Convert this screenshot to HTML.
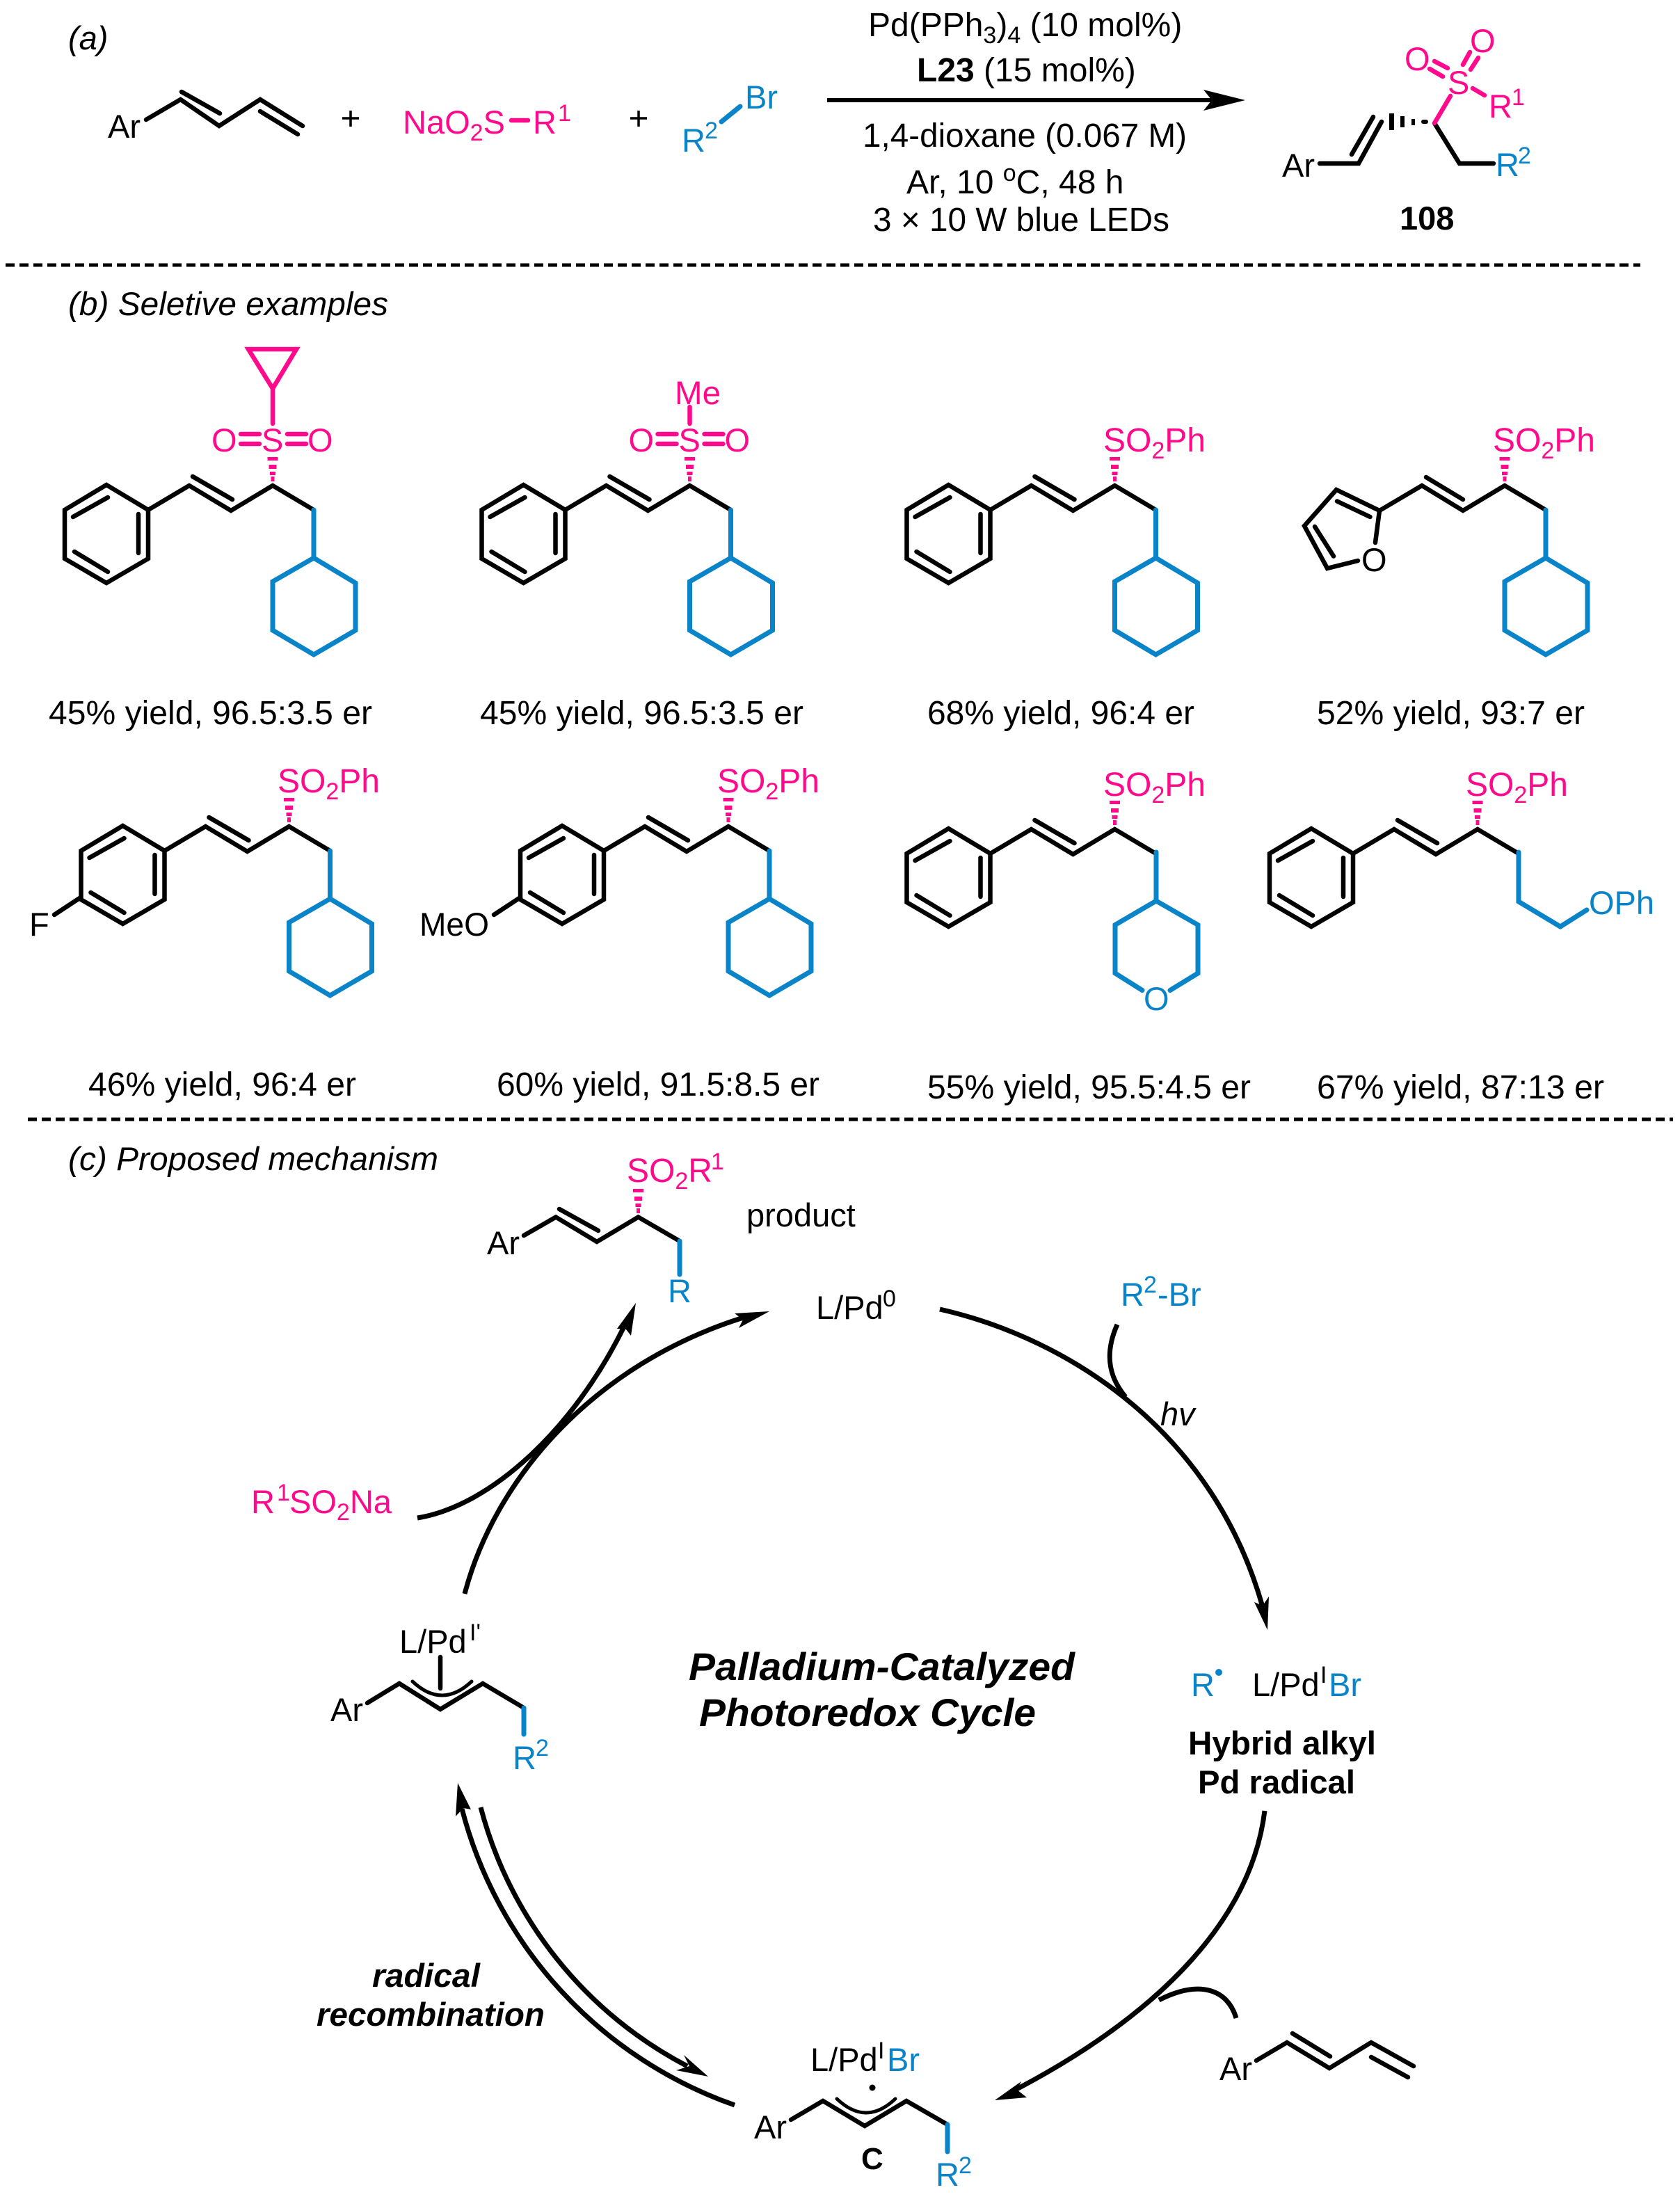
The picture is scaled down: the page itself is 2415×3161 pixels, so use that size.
<!DOCTYPE html>
<html>
<head>
<meta charset="utf-8">
<style>
html,body{margin:0;padding:0;background:#fff;}
svg{display:block;}
text{font-family:"Liberation Sans",Arial,sans-serif;font-size:47px;fill:#000;}
.y{font-size:48px;}
.s{font-size:48px;}
.p{fill:#ff0a8c;}
.b{fill:#0a84c8;}
.i{font-style:italic;}
.bd{font-weight:bold;}
.u{font-size:34px;}
.k{fill:none;stroke:#000;stroke-width:6.5;stroke-linecap:round;stroke-linejoin:miter;}
.kb{fill:none;stroke:#0a84c8;stroke-width:7;stroke-linecap:round;stroke-linejoin:miter;}
.kp{fill:none;stroke:#ff0a8c;stroke-width:6.5;stroke-linecap:round;stroke-linejoin:miter;}
.a{fill:none;stroke:#000;stroke-width:7;stroke-linecap:butt;}
.t{fill:none;stroke:#000;stroke-width:5;stroke-linecap:round;}
.dash{stroke:#000;stroke-width:5;stroke-dasharray:13 7;fill:none;}
</style>
</head>
<body>
<svg xmlns="http://www.w3.org/2000/svg" width="2415" height="3161" viewBox="0 0 2415 3161">
<defs>
<g id="ph">
<polygon class="k" points="153,697 213,733 213,803 153,838 93,803 93,733"/>
<path class="k" d="M105 743L155 715M107 793L155 822M199 739V795"/>
<path class="k" d="M213 733L272 698L332 734L392 698L451 733M277 685L334 718"/>
</g>
<g id="cy">
<path class="kb" d="M451 733V802"/>
<polygon class="kb" points="451,802 511,838 511,906 451,941 392,906 392,836"/>
</g>
<g id="hash" fill="#ff0a8c">
<rect x="-7.5" y="-41" width="15" height="5"/>
<rect x="-5.5" y="-30" width="11" height="6"/>
<rect x="-4" y="-20" width="8" height="5"/>
<rect x="-2.5" y="-13" width="5" height="7"/>
</g>
</defs>
<rect width="2415" height="3161" fill="#fff"/>

<!-- section a -->
<text class="i" x="98" y="71">(a)</text>
<text x="155" y="198">Ar</text>
<path class="k" d="M210 172L259.5 143L315 181L374 143L435 181M261 132L316 163M374 160L428 193"/>
<path d="M504 159V182M492 170H516M918 159V182M906 170H930" fill="none" stroke="#000" stroke-width="3.5"/>
<text class="p" x="579" y="192">NaO<tspan class="u" dy="10">2</tspan><tspan dy="-10">S</tspan></text>
<path class="kp" d="M735 173H759"/>
<text class="p" x="766" y="192">R</text><text class="p u" x="802" y="174">1</text>
<text class="b" x="1071" y="156">Br</text>
<path class="kb" d="M1037 175L1064 153"/>
<text class="b" x="980" y="218">R</text><text class="b u" x="1013" y="199">2</text>

<text class="y" x="1248" y="52">Pd(PPh<tspan class="u" dy="10">3</tspan><tspan dy="-10">)</tspan><tspan class="u" dy="10">4</tspan><tspan dy="-10"> (10 mol%)</tspan></text>
<text class="y" x="1318" y="117"><tspan class="bd">L23</tspan> (15 mol%)</text>
<path d="M1189 144H1745" stroke="#000" stroke-width="6" fill="none"/>
<polygon points="1790,144 1730,129 1742,144 1730,159" fill="#000"/>
<text class="y" x="1240" y="211" textLength="466" lengthAdjust="spacingAndGlyphs">1,4-dioxane (0.067 M)</text>
<text class="y" x="1303" y="278">Ar, 10 <tspan class="u" dy="-18">o</tspan><tspan dy="18">C, 48 h</tspan></text>
<text class="y" x="1255" y="332" textLength="426" lengthAdjust="spacingAndGlyphs">3 × 10 W blue LEDs</text>

<text x="1843" y="254">Ar</text>
<path class="k" d="M1897 235H1953L1986 175M1943 222L1974 168"/>
<rect x="1997" y="163" width="7" height="24" fill="#000"/>
<rect x="2013" y="167" width="6" height="16" fill="#000"/>
<rect x="2029" y="171" width="5" height="9" fill="#000"/>
<rect x="2043" y="172" width="10" height="6" rx="3" fill="#000"/>
<path class="k" d="M2062 177L2098 235H2147"/>
<path class="kp" d="M2062 177L2085 138M2062 88L2081 98M2055 99L2074 110M2113 75L2103 93M2125 83L2114 100M2117 127L2134 137"/>
<text class="p" x="2081" y="135">S</text>
<text class="p" x="2019" y="101">O</text>
<text class="p" x="2113" y="75">O</text>
<text class="p" x="2140" y="169">R</text><text class="p u" x="2173" y="151">1</text>
<text class="b" x="2150" y="253">R</text><text class="b u" x="2182" y="235">2</text>
<text class="bd" x="2012" y="330" style="font-size:47px">108</text>

<path class="dash" d="M8 381H2358"/>

<!-- section b -->
<text class="i" x="98" y="453" textLength="460" lengthAdjust="spacingAndGlyphs">(b) Seletive examples</text>

<!-- ex1 -->
<use href="#ph"/><use href="#cy"/>
<use href="#hash" x="392" y="698"/>
<path class="kp" d="M392 609V558.5M392 558.5L357 502H426Z"/>
<path class="kp" stroke-linecap="butt" d="M346 624H373M346 638H373M413 624H440M413 638H440"/>
<text class="p" x="304" y="649">O</text>
<text class="p" x="376" y="649">S</text>
<text class="p" x="442" y="649">O</text>

<!-- ex2 -->
<g transform="translate(599.5,0)"><use href="#ph"/><use href="#cy"/><use href="#hash" x="392" y="698"/>
<path class="kp" stroke-linecap="butt" d="M346 624H373M346 638H373M413 624H440M413 638H440"/>
<path class="kp" d="M392 585V609"/>
<text class="p" x="304" y="649">O</text>
<text class="p" x="376" y="649">S</text>
<text class="p" x="442" y="649">O</text></g>
<text class="p" x="970" y="581" textLength="66" lengthAdjust="spacingAndGlyphs">Me</text>

<!-- ex3 -->
<g transform="translate(1210.5,0)"><use href="#ph"/><use href="#cy"/><use href="#hash" x="392" y="698"/></g>
<text class="p s" x="1586" y="649">SO<tspan class="u" dy="10">2</tspan><tspan dy="-10">Ph</tspan></text>

<!-- ex4 -->
<path class="k" d="M1977 780L1983 734L1921 704L1875 756L1908 817L1952 806M1922 720.5L1969.5 743M1890 757L1917 799.5"/>
<path class="k" d="M1983 734L2044 698L2103 734L2163 698L2222 733M2050 686L2103 718"/>
<text x="1957" y="821">O</text>
<g transform="translate(1771,0)"><use href="#cy"/><use href="#hash" x="392" y="698"/></g>
<text class="p s" x="2146" y="649">SO<tspan class="u" dy="10">2</tspan><tspan dy="-10">Ph</tspan></text>

<text class="y" x="70" y="1041" textLength="465" lengthAdjust="spacingAndGlyphs">45% yield, 96.5:3.5 er</text>
<text class="y" x="690" y="1041" textLength="465" lengthAdjust="spacingAndGlyphs">45% yield, 96.5:3.5 er</text>
<text class="y" x="1333" y="1041" textLength="384" lengthAdjust="spacingAndGlyphs">68% yield, 96:4 er</text>
<text class="y" x="1893" y="1041" textLength="385" lengthAdjust="spacingAndGlyphs">52% yield, 93:7 er</text>

<!-- ex5 -->
<g transform="translate(23.5,490)"><use href="#ph"/><use href="#cy"/><use href="#hash" x="392" y="698"/></g>
<path class="k" d="M116 1290L78 1315"/>
<text x="42" y="1345">F</text>
<text class="p s" x="399" y="1139">SO<tspan class="u" dy="10">2</tspan><tspan dy="-10">Ph</tspan></text>

<!-- ex6 -->
<g transform="translate(655,490)"><use href="#ph"/><use href="#cy"/><use href="#hash" x="392" y="698"/></g>
<path class="k" d="M748 1290L710 1315"/>
<text x="603" y="1345" textLength="100" lengthAdjust="spacingAndGlyphs">MeO</text>
<text class="p s" x="1031" y="1139">SO<tspan class="u" dy="10">2</tspan><tspan dy="-10">Ph</tspan></text>

<!-- ex7 -->
<g transform="translate(1210.5,494)"><use href="#ph"/><use href="#hash" x="392" y="698"/></g>
<path class="kb" d="M1682 1423.5L1722 1399V1329.5L1662 1295L1603 1329.5V1399L1642 1423.5M1662 1225V1295"/>
<text class="b" x="1644" y="1452">O</text>
<text class="p s" x="1586" y="1144">SO<tspan class="u" dy="10">2</tspan><tspan dy="-10">Ph</tspan></text>

<!-- ex8 -->
<g transform="translate(1732,494)"><use href="#ph"/><use href="#hash" x="392" y="698"/></g>
<path class="kb" d="M2183 1225V1296L2243 1332L2281 1308"/>
<text class="b s" x="2292" y="1314" style="font-size:47px" dx="-8">OPh</text>
<text class="p s" x="2107" y="1144">SO<tspan class="u" dy="10">2</tspan><tspan dy="-10">Ph</tspan></text>

<text class="y" x="127" y="1575" textLength="385" lengthAdjust="spacingAndGlyphs">46% yield, 96:4 er</text>
<text class="y" x="714" y="1575" textLength="464" lengthAdjust="spacingAndGlyphs">60% yield, 91.5:8.5 er</text>
<text class="y" x="1333" y="1579" textLength="465" lengthAdjust="spacingAndGlyphs">55% yield, 95.5:4.5 er</text>
<text class="y" x="1893" y="1579" textLength="413" lengthAdjust="spacingAndGlyphs">67% yield, 87:13 er</text>

<path class="dash" d="M40 1609H2405"/>

<!-- section c -->
<text class="i" x="98" y="1682" textLength="532" lengthAdjust="spacingAndGlyphs">(c) Proposed mechanism</text>

<text class="p s" x="901" y="1699">SO<tspan class="u" dy="10">2</tspan><tspan dy="-10">R</tspan></text>
<text class="p u" x="1022" y="1681">1</text>
<use href="#hash" x="917.5" y="1750"/>
<text x="700" y="1803">Ar</text>
<path class="k" d="M753 1776L799 1749.5L858 1785L917.5 1749.5L977 1784M804 1738L860 1769"/>
<path class="kb" d="M977 1784V1832"/>
<text class="b" x="960" y="1872">R</text>
<text x="1073" y="1763">product</text>
<text x="1173" y="1896">L/Pd</text><text class="u" x="1269" y="1878">0</text>

<!-- arrow to L/Pd0 -->
<path class="a" d="M668 2291C710 2130 850 1960 1075 1892"/>
<polygon points="1106,1885 1056,1888 1068,1897 1062,1909" fill="#000"/>
<!-- arrow R1SO2Na to product -->
<path class="a" d="M600 2182C705 2165 825 2055 898 1905"/>
<polygon points="914,1873 887,1910 900,1911 907,1920" fill="#000"/>
<text class="p" x="361" y="2175">R</text><text class="p u" x="398" y="2157">1</text>
<text class="p" x="416" y="2175">SO<tspan class="u" dy="10">2</tspan><tspan dy="-10">Na</tspan></text>

<!-- top-right arc -->
<path class="a" d="M1351 1882C1540 1925 1745 2060 1815 2310"/>
<polygon points="1822,2343 1803,2303 1815,2308 1824,2295" fill="#000"/>
<path class="a" stroke-width="5.5" d="M1606 1904C1590 1940 1590 1975 1618 2008"/>
<text class="b" x="1611" y="1877">R</text><text class="b u" x="1644" y="1858">2</text>
<text class="b" x="1664" y="1877">-Br</text>
<text class="i" x="1668" y="2049">hv</text>

<text class="b" x="1712" y="2438">R</text>
<circle cx="1752" cy="2404" r="5" fill="#0a84c8"/>
<text x="1800" y="2438">L/Pd</text>
<text class="u" x="1898" y="2419">I</text>
<text class="b" x="1910" y="2438">Br</text>
<text class="bd" x="1708" y="2522" textLength="270" lengthAdjust="spacingAndGlyphs">Hybrid alkyl</text>
<text class="bd" x="1722" y="2578" textLength="226" lengthAdjust="spacingAndGlyphs">Pd radical</text>

<!-- title -->
<text class="bd i" x="990" y="2415" style="font-size:56px" textLength="555" lengthAdjust="spacingAndGlyphs">Palladium-Catalyzed</text>
<text class="bd i" x="1005" y="2481" style="font-size:56px" textLength="484" lengthAdjust="spacingAndGlyphs">Photoredox Cycle</text>

<!-- left Pd complex -->
<text x="574" y="2376">L/Pd</text>
<text class="u" x="675" y="2358">I'</text>
<path class="k" d="M633 2382V2427"/>
<text x="475" y="2474">Ar</text>
<path class="k" d="M528 2448L574 2420L633 2457L694 2420L753 2455"/>
<path class="t" d="M593 2417Q635.5 2457 678 2417"/>
<path class="kb" d="M753 2455V2493"/>
<text class="b" x="737" y="2543">R</text><text class="b u" x="770" y="2524">2</text>

<!-- right arc -->
<path class="a" d="M1818 2603C1800 2750 1680 2890 1452 3008"/>
<polygon points="1430,3019 1468,2992 1462,3004 1476,3015" fill="#000"/>
<path class="a" d="M1777 2901C1765 2860 1725 2845 1666 2875"/>
<text x="1753" y="2990">Ar</text>
<path class="k" d="M1806 2962L1850 2936L1911 2973L1971 2936L2032 2970M1858 2923L1912 2956M1971 2957L2024 2986"/>

<!-- equilibrium -->
<path class="a" d="M1056 3026A615 615 0 0 1 664 2600"/>
<polygon points="658,2563 655,2611 666,2599 677,2601" fill="#000"/>
<path class="a" d="M691 2598A588 588 0 0 0 988 2970"/>
<polygon points="1018,2985 983,2954 991,2970 972,2976" fill="#000"/>
<text class="bd i" x="535" y="2856" textLength="155" lengthAdjust="spacingAndGlyphs">radical</text>
<text class="bd i" x="455" y="2912" textLength="328" lengthAdjust="spacingAndGlyphs">recombination</text>

<!-- C -->
<text x="1165" y="2977">L/Pd</text>
<text class="u" x="1262" y="2959">I</text>
<text class="b" x="1275" y="2977">Br</text>
<circle cx="1254" cy="3001" r="4.5" fill="#000"/>
<text x="1084" y="3074">Ar</text>
<path class="k" d="M1137 3047L1183 3020L1243 3056L1303 3020L1362 3054"/>
<path class="t" d="M1203 3017Q1245 3057 1287 3017"/>
<path class="kb" d="M1362 3054V3093"/>
<text class="bd" x="1238" y="3118" style="font-size:44px">C</text>
<text class="b" x="1345" y="3142">R</text><text class="b u" x="1378" y="3124">2</text>
</svg>
</body>
</html>
